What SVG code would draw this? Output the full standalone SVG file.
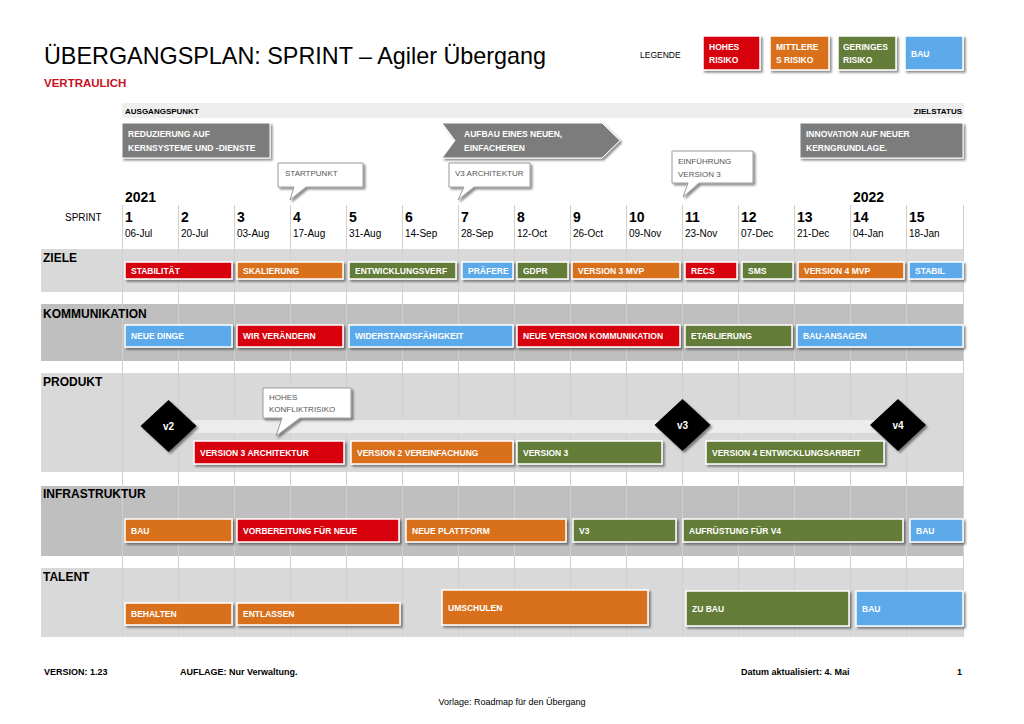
<svg xmlns="http://www.w3.org/2000/svg" width="1024" height="724" viewBox="0 0 1024 724">
<defs>
<filter id="sh" x="-10%" y="-20%" width="130%" height="160%">
<feDropShadow dx="2" dy="2" stdDeviation="1.2" flood-color="#000" flood-opacity="0.45"/>
</filter>
<style>
text{font-family:"Liberation Sans",Arial,sans-serif}
.bar{stroke:#fff;stroke-width:1.5;filter:url(#sh)}
.r{fill:#d7000f}.o{fill:#d9711d}.g{fill:#637d39}.b{fill:#5caaea}
.bt{fill:#fff;font-size:8.5px;font-weight:bold}
.lab{fill:#000;font-size:12px;font-weight:bold}
.gbox{fill:#7b7b7b;stroke:#fff;stroke-width:1;filter:url(#sh)}
.gt{fill:#fff;font-size:8.5px;font-weight:bold}
.call{fill:#fff;stroke:#9a9a9a;stroke-width:1;filter:url(#sh)}
.ct{fill:#555;font-size:8px}
.num{font-size:14px;font-weight:bold;fill:#000}
.dt{font-size:10px;fill:#000}
.grid line{stroke:#d0d0d0;stroke-width:1}
.dia{fill:#000;filter:url(#sh)}
.dtx{fill:#fff;font-size:10px;font-weight:bold;text-anchor:middle}
.ft{font-size:9px;font-weight:bold;fill:#000}
</style>
</defs>
<rect width="1024" height="724" fill="#fff"/>

<g id="header">
<text x="44" y="64" font-size="24" textLength="502" lengthAdjust="spacingAndGlyphs" fill="#000">ÜBERGANGSPLAN: SPRINT – Agiler Übergang</text>
<text x="44" y="87" font-size="11.5" font-weight="bold" fill="#c8101e">VERTRAULICH</text>
</g>

<g id="legend">
<text x="640" y="58" font-size="8.5" fill="#000">LEGENDE</text>
<rect class="bar r" x="703" y="36" width="57" height="34"/>
<text class="bt" x="709" y="50">HOHES</text><text class="bt" x="709" y="63">RISIKO</text>
<rect class="bar o" x="770" y="36" width="59" height="34"/>
<text class="bt" x="776" y="50">MITTLERE</text><text class="bt" x="776" y="63">S RISIKO</text>
<rect class="bar g" x="838" y="36" width="58" height="34"/>
<text class="bt" x="843" y="50">GERINGES</text><text class="bt" x="843" y="63">RISIKO</text>
<rect class="bar b" x="905" y="36" width="58" height="34"/>
<text class="bt" x="911" y="57">BAU</text>
</g>

<g id="status-strip">
<rect x="122" y="103" width="842" height="15" fill="#eeeeee"/>
<text x="125" y="114" font-size="8" font-weight="bold" fill="#000">AUSGANGSPUNKT</text>
<text x="962" y="114" font-size="8" font-weight="bold" fill="#000" text-anchor="end">ZIELSTATUS</text>
</g>

<g id="start-box">
<rect class="gbox" x="122" y="123" width="148" height="35"/>
<text class="gt" x="128" y="137">REDUZIERUNG AUF</text>
<text class="gt" x="128" y="151">KERNSYSTEME UND -DIENSTE</text>
</g>
<g id="mid-arrow">
<polygon class="gbox" points="442,123 602,123 620,140.5 602,158 442,158 455,140.5"/>
<text class="gt" x="464" y="137">AUFBAU EINES NEUEN,</text>
<text class="gt" x="464" y="151">EINFACHEREN</text>
</g>
<g id="target-box">
<rect class="gbox" x="800" y="123" width="163" height="35"/>
<text class="gt" x="806" y="137">INNOVATION AUF NEUER</text>
<text class="gt" x="806" y="151">KERNGRUNDLAGE.</text>
</g>

<g id="bands">
<rect x="41" y="249" width="923" height="43" fill="#d9d9d9"/>
<rect x="41" y="304" width="923" height="57" fill="#bfbfbf"/>
<rect x="41" y="373" width="923" height="99" fill="#d9d9d9"/>
<rect x="41" y="486" width="923" height="70" fill="#bfbfbf"/>
<rect x="41" y="568" width="923" height="69" fill="#d9d9d9"/>
</g>

<g class="grid" id="grid">
<line x1="122.5" y1="205" x2="122.5" y2="637"/>
<line x1="178.5" y1="205" x2="178.5" y2="637"/>
<line x1="234.5" y1="205" x2="234.5" y2="637"/>
<line x1="290.5" y1="205" x2="290.5" y2="637"/>
<line x1="346.5" y1="205" x2="346.5" y2="637"/>
<line x1="402.5" y1="205" x2="402.5" y2="637"/>
<line x1="458.5" y1="205" x2="458.5" y2="637"/>
<line x1="514.5" y1="205" x2="514.5" y2="637"/>
<line x1="570.5" y1="205" x2="570.5" y2="637"/>
<line x1="626.5" y1="205" x2="626.5" y2="637"/>
<line x1="682.5" y1="205" x2="682.5" y2="637"/>
<line x1="738.5" y1="205" x2="738.5" y2="637"/>
<line x1="794.5" y1="205" x2="794.5" y2="637"/>
<line x1="850.5" y1="205" x2="850.5" y2="637"/>
<line x1="906.5" y1="205" x2="906.5" y2="637"/>
<line x1="963.5" y1="205" x2="963.5" y2="637"/>
</g>

<g id="timeline">
<text x="125" y="202" font-size="14" font-weight="bold">2021</text>
<text x="853" y="202" font-size="14" font-weight="bold">2022</text>
<text x="65" y="221" font-size="10">SPRINT</text>
<text class="num" x="125" y="222">1</text><text class="dt" x="125" y="237">06-Jul</text>
<text class="num" x="181" y="222">2</text><text class="dt" x="181" y="237">20-Jul</text>
<text class="num" x="237" y="222">3</text><text class="dt" x="237" y="237">03-Aug</text>
<text class="num" x="293" y="222">4</text><text class="dt" x="293" y="237">17-Aug</text>
<text class="num" x="349" y="222">5</text><text class="dt" x="349" y="237">31-Aug</text>
<text class="num" x="405" y="222">6</text><text class="dt" x="405" y="237">14-Sep</text>
<text class="num" x="461" y="222">7</text><text class="dt" x="461" y="237">28-Sep</text>
<text class="num" x="517" y="222">8</text><text class="dt" x="517" y="237">12-Oct</text>
<text class="num" x="573" y="222">9</text><text class="dt" x="573" y="237">26-Oct</text>
<text class="num" x="629" y="222">10</text><text class="dt" x="629" y="237">09-Nov</text>
<text class="num" x="685" y="222">11</text><text class="dt" x="685" y="237">23-Nov</text>
<text class="num" x="741" y="222">12</text><text class="dt" x="741" y="237">07-Dec</text>
<text class="num" x="797" y="222">13</text><text class="dt" x="797" y="237">21-Dec</text>
<text class="num" x="853" y="222">14</text><text class="dt" x="853" y="237">04-Jan</text>
<text class="num" x="909" y="222">15</text><text class="dt" x="909" y="237">18-Jan</text>
</g>

<g id="callout-startpunkt">
<path class="call" d="M278,163 H363 V187 H306 L290,200 L294,187 H278 Z"/>
<text class="ct" x="285" y="176">STARTPUNKT</text>
</g>
<g id="callout-v3arch">
<path class="call" d="M449,163 H530 V187 H474 L458,200 L464,187 H449 Z"/>
<text class="ct" x="455" y="176">V3 ARCHITEKTUR</text>
</g>
<g id="callout-einfuehrung">
<path class="call" d="M672,151 H753 V183 H699 L683,197 L688,183 H672 Z"/>
<text class="ct" x="678" y="164">EINFÜHRUNG</text>
<text class="ct" x="678" y="177">VERSION 3</text>
</g>

<g id="row-ziele">
<text class="lab" x="43" y="262">ZIELE</text>
<rect class="bar r" x="125" y="262" width="107" height="17"/><text class="bt" x="131" y="274">STABILITÄT</text>
<rect class="bar o" x="237" y="262" width="106" height="17"/><text class="bt" x="243" y="274">SKALIERUNG</text>
<rect class="bar g" x="349" y="262" width="107" height="17"/><text class="bt" x="355" y="274">ENTWICKLUNGSVERF</text>
<rect class="bar b" x="462" y="262" width="51" height="17"/><text class="bt" x="468" y="274">PRÄFERE</text>
<rect class="bar g" x="517" y="262" width="51" height="17"/><text class="bt" x="523" y="274">GDPR</text>
<rect class="bar o" x="572" y="262" width="108" height="17"/><text class="bt" x="578" y="274">VERSION 3 MVP</text>
<rect class="bar r" x="685" y="262" width="52" height="17"/><text class="bt" x="691" y="274">RECS</text>
<rect class="bar g" x="742" y="262" width="51" height="17"/><text class="bt" x="748" y="274">SMS</text>
<rect class="bar o" x="798" y="262" width="106" height="17"/><text class="bt" x="804" y="274">VERSION 4 MVP</text>
<rect class="bar b" x="909" y="262" width="54" height="17"/><text class="bt" x="915" y="274">STABIL</text>
</g>

<g id="row-kommunikation">
<text class="lab" x="43" y="318">KOMMUNIKATION</text>
<rect class="bar b" x="125" y="325" width="107" height="22"/><text class="bt" x="131" y="339">NEUE DINGE</text>
<rect class="bar r" x="237" y="325" width="106" height="22"/><text class="bt" x="243" y="339">WIR VERÄNDERN</text>
<rect class="bar b" x="349" y="325" width="164" height="22"/><text class="bt" x="355" y="339">WIDERSTANDSFÄHIGKEIT</text>
<rect class="bar r" x="517" y="325" width="163" height="22"/><text class="bt" x="523" y="339">NEUE VERSION KOMMUNIKATION</text>
<rect class="bar g" x="685" y="325" width="107" height="22"/><text class="bt" x="691" y="339">ETABLIERUNG</text>
<rect class="bar b" x="797" y="325" width="166" height="22"/><text class="bt" x="803" y="339">BAU-ANSAGEN</text>
</g>

<g id="row-produkt">
<text class="lab" x="43" y="386">PRODUKT</text>
<rect x="168" y="420" width="730" height="13" fill="#ececec"/>
<rect class="bar r" x="194" y="441" width="150" height="23"/><text class="bt" x="200" y="456">VERSION 3 ARCHITEKTUR</text>
<rect class="bar o" x="351" y="441" width="162" height="23"/><text class="bt" x="357" y="456">VERSION 2 VEREINFACHUNG</text>
<rect class="bar g" x="517" y="441" width="145" height="23"/><text class="bt" x="523" y="456">VERSION 3</text>
<rect class="bar g" x="706" y="441" width="178" height="23"/><text class="bt" x="712" y="456">VERSION 4 ENTWICKLUNGSARBEIT</text>
</g>
<g id="milestone-v2">
<polygon class="dia" points="168.5,400 196.5,426 168.5,452 140.5,426"/>
<text class="dtx" x="168.5" y="430">v2</text>
</g>
<g id="milestone-v3">
<polygon class="dia" points="682.5,399 710.5,425 682.5,451 654.5,425"/>
<text class="dtx" x="682.5" y="429">v3</text>
</g>
<g id="milestone-v4">
<polygon class="dia" points="898,399 926,425 898,451 870,425"/>
<text class="dtx" x="898" y="429">v4</text>
</g>
<g id="callout-konflikt">
<path class="call" d="M263,388 H351 V418 H300 L276,436 L282,418 H263 Z"/>
<text class="ct" x="269" y="400">HOHES</text>
<text class="ct" x="269" y="412">KONFLIKTRISIKO</text>
</g>

<g id="row-infrastruktur">
<text class="lab" x="43" y="498">INFRASTRUKTUR</text>
<rect class="bar o" x="125" y="519" width="107" height="23"/><text class="bt" x="131" y="534">BAU</text>
<rect class="bar r" x="237" y="519" width="162" height="23"/><text class="bt" x="243" y="534">VORBEREITUNG FÜR NEUE</text>
<rect class="bar o" x="406" y="519" width="160" height="23"/><text class="bt" x="412" y="534">NEUE PLATTFORM</text>
<rect class="bar g" x="573" y="519" width="103" height="23"/><text class="bt" x="579" y="534">V3</text>
<rect class="bar g" x="683" y="519" width="220" height="23"/><text class="bt" x="689" y="534">AUFRÜSTUNG FÜR V4</text>
<rect class="bar b" x="910" y="519" width="53" height="23"/><text class="bt" x="916" y="534">BAU</text>
</g>

<g id="row-talent">
<text class="lab" x="43" y="581">TALENT</text>
<rect class="bar o" x="125" y="603" width="107" height="22"/><text class="bt" x="131" y="617">BEHALTEN</text>
<rect class="bar o" x="237" y="603" width="163" height="22"/><text class="bt" x="243" y="617">ENTLASSEN</text>
<rect class="bar o" x="442" y="590" width="206" height="35"/><text class="bt" x="448" y="611">UMSCHULEN</text>
<rect class="bar g" x="686" y="591" width="163" height="35"/><text class="bt" x="692" y="612">ZU BAU</text>
<rect class="bar b" x="856" y="591" width="107" height="35"/><text class="bt" x="862" y="612">BAU</text>
</g>

<g id="footer">
<text class="ft" x="44" y="675">VERSION: 1.23</text>
<text class="ft" x="180" y="675">AUFLAGE: Nur Verwaltung.</text>
<text class="ft" x="741" y="675">Datum aktualisiert: 4. Mai</text>
<text class="ft" x="957" y="675">1</text>
<text x="512" y="705" font-size="9" text-anchor="middle" fill="#000">Vorlage: Roadmap für den Übergang</text>
</g>
</svg>
